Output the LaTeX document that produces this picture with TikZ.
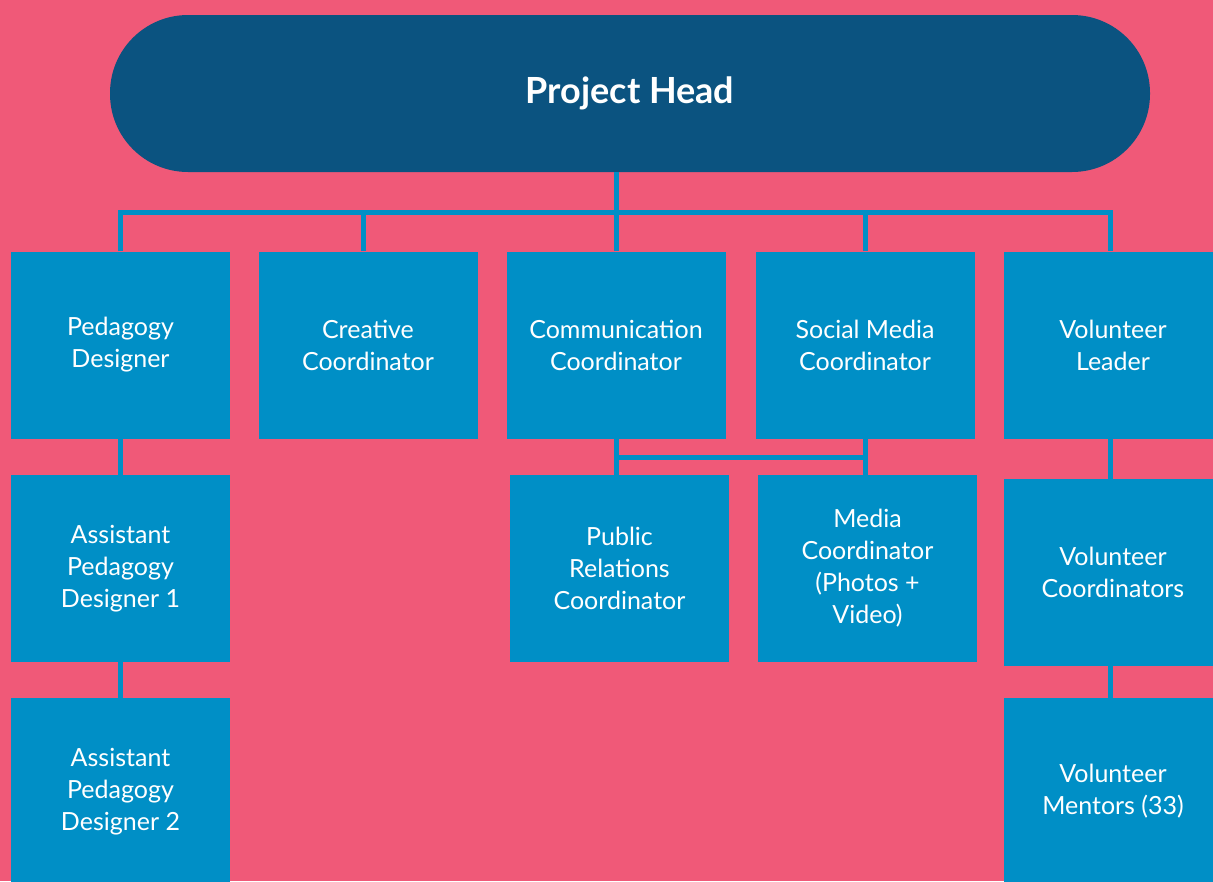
\documentclass[tikz,border=0pt]{standalone}
\usepackage{fontspec}
\setmainfont{Lato}
\usepackage{xcolor}
\usepackage{tikz}
\usetikzlibrary{positioning,calc}
\definecolor{bgpink}{RGB}{240,89,120}
\definecolor{headblue}{RGB}{11,83,128}
\definecolor{boxblue}{RGB}{0,143,198}
\tikzset{
  head/.style={fill=headblue, text=white, minimum width=1040pt, minimum height=157pt, rounded corners=78pt, font=\fontsize{36}{40}\selectfont\bfseries},
  role/.style={fill=boxblue, text=white, align=center, minimum width=219pt, minimum height=187pt, inner sep=0pt, font=\fontsize{25}{32}\selectfont},
  link/.style={draw=boxblue, line width=5pt}
}

\begin{document}
\begin{tikzpicture}[x=1pt, y=-1pt]
    % Background
    \fill[bgpink] (0,0) rectangle (1213,881);
    \useasboundingbox (0,0) rectangle (1213,881);
    % Top
    \node[head] (head) at (630,93.5) {Project Head};
    \coordinate (bar) at (0,212);
    \coordinate (mid) at (0,457);
    % First row
    \node[role] (ped) at (120.5,345) {Pedagogy\\Designer};
    \node[role] (creative) at (368,345) {Creative\\Coordinator};
    \node[role] (comm) at (616,345) {Communication\\Coordinator};
    \node[role] (social) at (865,345) {Social Media\\Coordinator};
    \node[role] (vol) at (1113,345) {Volunteer\\Leader};
    % Second row
    \node[role] (apdone) at (120.5,568.5) {Assistant\\Pedagogy\\Designer 1};
    \node[role] (pr) at (619.5,568.5) {Public\\Relations\\Coordinator};
    \node[role] (media) at (867.5,568.5) {Media\\Coordinator\\(Photos +\\Video)};
    \node[role] (volcoord) at (1113,572.5) {Volunteer\\Coordinators};
    % Third row
    \node[role] (apdtwo) at (120.5,791.5) {Assistant\\Pedagogy\\Designer 2};
    \node[role] (mentors) at (1113,791.5) {Volunteer\\Mentors (33)};
    % Links
    \draw[link] (comm.north |- head.south) -- (comm.north |- bar);
    \draw[link] (ped.north) -- (ped.north |- bar) -- ([xshift=-3pt]vol.north |- bar) -- ([xshift=-3pt]vol.north);
    \draw[link] ([xshift=-5pt]creative.north) -- ([xshift=-5pt]creative.north |- bar);
    \draw[link] (comm.north) -- (comm.north |- bar);
    \draw[link] (social.north) -- (social.north |- bar);
    \draw[link] (comm.south) -- (comm.south |- pr.north);
    \draw[link] (social.south) -- (social.south |- media.north);
    \draw[link] (comm.south |- mid) -- (social.south |- mid);
    \draw[link] (ped.south) -- (apdone.north);
    \draw[link] (apdone.south) -- (apdtwo.north);
    \draw[link] ([xshift=-3pt]vol.south) -- ([xshift=-3pt]volcoord.north);
    \draw[link] ([xshift=-3pt]volcoord.south) -- ([xshift=-3pt]mentors.north);
\end{tikzpicture}
\end{document}
